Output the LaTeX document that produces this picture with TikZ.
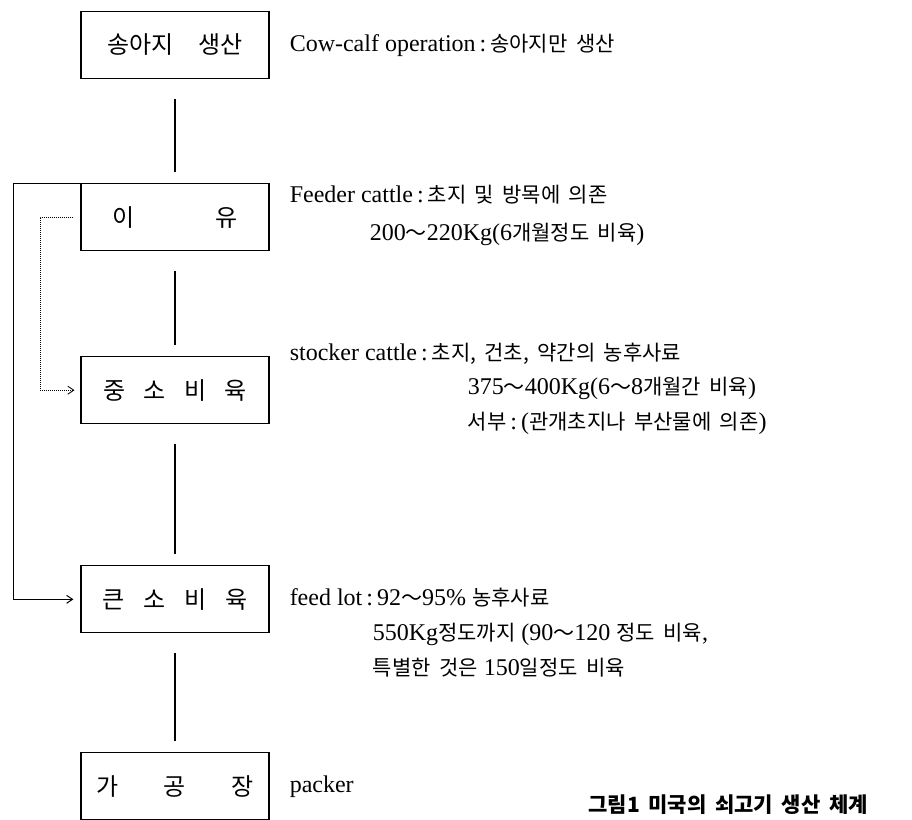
\documentclass[tikz,border=0pt]{standalone}
\usepackage{fontspec}
\setmainfont{Liberation Serif}
\newfontfamily\kofont[WordSpace=1.8]{Noto Sans CJK KR}
\usetikzlibrary{arrows.meta,positioning}
\newcommand{\ko}[1]{{\kofont\fontsize{21}{25}\selectfont #1}}
\newcommand{\til}{\ko{～}}

\begin{document}
\begin{tikzpicture}[node distance=105pt,
    stage/.style={rectangle,draw,line width=1.1pt,minimum width=188pt,minimum height=67pt,
      align=center,font=\kofont\fontsize{24}{28}\selectfont},
    note/.style={inner sep=0pt,text height=17pt,text depth=5pt,anchor=west,
      font=\fontsize{24}{28}\selectfont},
    link/.style={line width=1.1pt,shorten <=20pt,shorten >=11pt},
    arrow/.style={-{Straight Barb[length=6pt,width=8pt]},line width=1pt}]
  \useasboundingbox (0,0) rectangle (912pt,-819pt);
  % production stages
  \node[stage] (calf) at (175pt,-45pt) {송아지\hspace{1em}생산};
  \node[stage,below=104pt of calf] (wean) {이\hspace{3.4em}유};
  \node[stage,below=105pt of wean] (stocker) {중\hspace{0.75em}소\hspace{0.75em}비\hspace{0.75em}육};
  \node[stage,below=141pt of stocker] (feedlot) {큰\hspace{0.8em}소\hspace{0.8em}비\hspace{0.8em}육};
  \node[stage,below=119pt of feedlot] (packer) {가\hspace{1.9em}공\hspace{1.9em}장};
  \foreach \a/\b in {calf/wean,wean/stocker,stocker/feedlot,feedlot/packer}
    \draw[link] (\a) -- (\b);
  % bypass routes
  \draw[arrow,shorten >=7pt] (wean.north west) -- ++(-67pt,0) |- (feedlot.west);
  \draw[arrow,densely dotted,line width=0.8pt,shorten <=7pt,shorten >=6pt]
    (wean.west) -- ++(-40pt,0) |- (stocker.west);
  % descriptions
  \node[note,right=20pt of calf] (cowcalf) {Cow-calf operation\,:\,\ko{송아지만 생산}};
  \node[note,right=20pt of wean,yshift=21pt] (feeder) {Feeder cattle\,:\,\ko{초지 및 방목에 의존}};
  \node[note,below right=16pt and 80pt of feeder.south west] (feeder2) {200\til220Kg(6\ko{개월정도 비육})};
  \node[note,right=20pt of stocker,yshift=36pt] (stock) {stocker cattle\,:\,\ko{초지, 건초, 약간의 농후사료}};
  \node[note,below right=12pt and 178pt of stock.south west] (stock2) {375\til400Kg(6\til8\ko{개월간 비육})};
  \node[note,below right=12pt and 0pt of stock2.south west] (stock3) {\ko{서부}\,:\,(\ko{관개초지나 부산물에 의존})};
  \node[note,right=20pt of feedlot] (lot) {feed lot\,:\,92\til95\% \ko{농후사료}};
  \node[note,below right=13pt and 83pt of lot.south west] (lot2) {550Kg\ko{정도까지} (90\til120 \ko{정도 비육},};
  \node[note,below right=12pt and 0pt of lot2.south west] (lot3) {\ko{특별한 것은} 150\ko{일정도 비육}};
  \node[note,right=20pt of packer] (pack) {packer};
  \node[anchor=west,font=\kofont\bfseries\fontsize{21}{25}\selectfont] (caption) at (585pt,-805pt) {그림1 미국의 쇠고기 생산 체계};
\end{tikzpicture}
\end{document}
